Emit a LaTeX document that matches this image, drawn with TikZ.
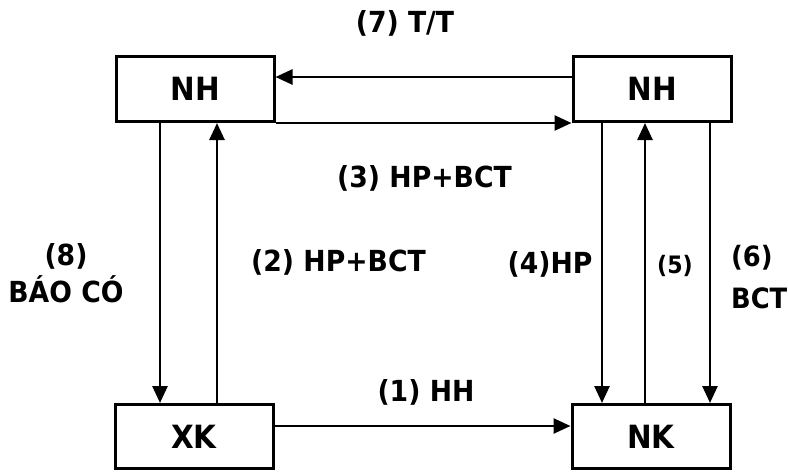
\documentclass[tikz,border=0pt]{standalone}
\usepackage{fontspec}
\setmainfont{DejaVu Sans}[FakeStretch=0.92]
\usetikzlibrary{arrows.meta}
\tikzset{
  box/.style={draw, line width=3pt, minimum width=158pt, minimum height=65pt, inner sep=0pt,
    font=\fontsize{32}{38}\selectfont\bfseries},
  lbl/.style={font=\fontsize{29}{37}\selectfont\bfseries, inner sep=0pt},
  small/.style={font=\fontsize{24}{30}\selectfont\bfseries, inner sep=0pt},
  conn/.style={line width=2.6pt, -{Triangle[length=17pt,width=15pt]}}
}
\begin{document}
\begin{tikzpicture}[x=1pt,y=-1pt]
\useasboundingbox (0,0) rectangle (788,472);
\node[box] (nh1) at (195,89) {NH};
\node[box] (nh2) at (652,89) {NH};
\node[box, minimum height=64pt] (xk) at (194,436.5) {XK};
\node[box, minimum height=64pt] (nk) at (651,436.5) {NK};
% (7)
\draw[conn] ([yshift=12pt]nh2.west) -- ([yshift=12pt]nh1.east);
% (3)
\draw[conn] (nh1.south east) -- (nh2.south west);
% left verticals
\draw[conn] (nh1.south -| 160,0) -- (xk.north -| 160,0);
\draw[conn] (xk.north -| 217,0) -- (nh1.south -| 217,0);
% right verticals
\draw[conn] (nh2.south -| 602,0) -- (nk.north -| 602,0);
\draw[conn] (nk.north -| 645,0) -- (nh2.south -| 645,0);
\draw[conn] (nh2.south -| 710,0) -- (nk.north -| 710,0);
% (1)
\draw[conn] ([yshift=10.5pt]xk.east) -- ([yshift=10.5pt]nk.west);
% labels
\node[lbl] (l7) at (405,23) {(7) T/T};
\node[lbl] (l3) at (424.5,178) {(3) HP+BCT};
\node[lbl] (l2) at (338.5,262) {(2) HP+BCT};
\node[lbl] (l1) at (426,392) {(1) HH};
\node[lbl] (l4) at (550,264) {(4)HP};
\node[small] (l5) at (675,266) {(5)};
\node[lbl, font=\fontsize{28}{42}\selectfont\bfseries, align=left, anchor=west] (l6) at (731,277) {(6)\\BCT};
\node[lbl, align=center] (l8) at (66,273) {(8)\\BÁO CÓ};
\end{tikzpicture}
\end{document}
